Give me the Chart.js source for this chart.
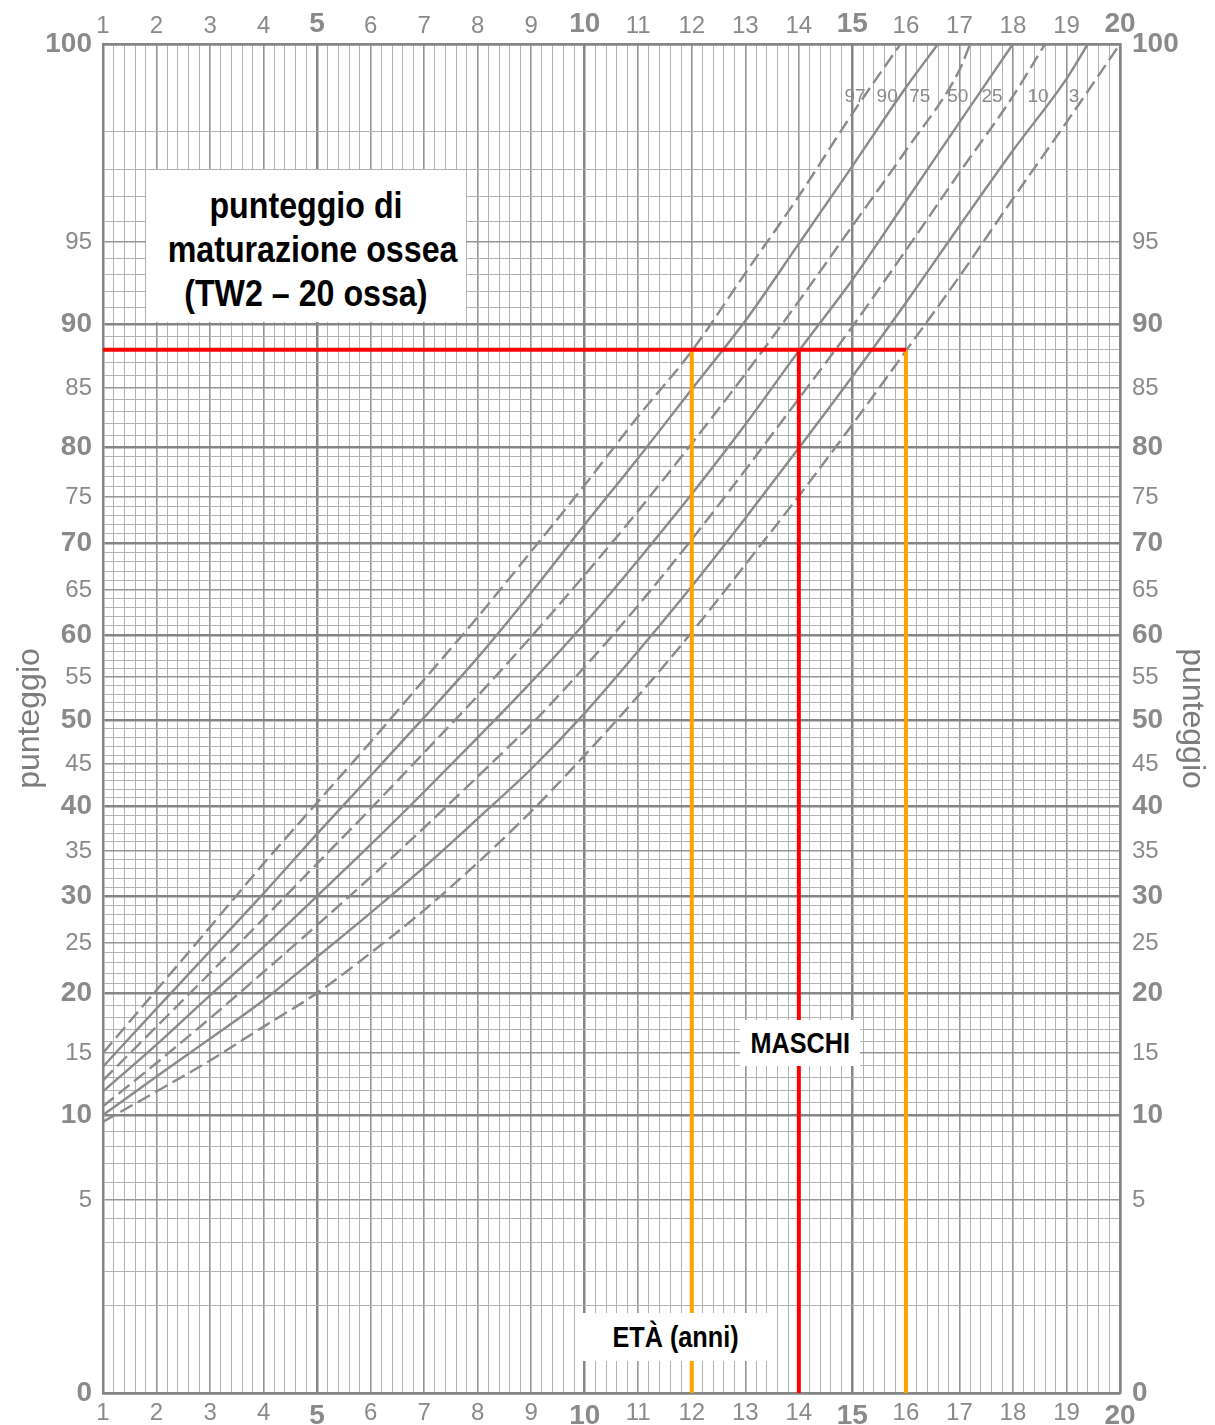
<!DOCTYPE html>
<html lang="it">
<head>
<meta charset="utf-8">
<title>punteggio di maturazione ossea (TW2 – 20 ossa)</title>
<script src="https://cdn.jsdelivr.net/npm/chart.js@4.4.1/dist/chart.umd.min.js"></script>
<style>
    body { margin: 0; background: #fff; }
    #wrap { position: relative; width: 1215px; height: 1425px; }
    .box {
        position: absolute;
        background: #fff;
        color: #000;
        font-family: 'Liberation Sans', Arial, sans-serif;
        font-weight: bold;
        text-align: center;
        white-space: nowrap;
    }
    .box span { display: inline-block; transform: scaleX(0.87); transform-origin: center; }
    #title-box { left: 146px; top: 170px; width: 320px; height: 152px; font-size: 37px; line-height: 44px; padding-top: 14px; box-sizing: border-box; }
    #sex-box { left: 740px; top: 1020px; width: 120px; height: 46px; font-size: 29px; line-height: 46px; }
    #age-box { left: 578px; top: 1313px; width: 194px; height: 48px; font-size: 29px; line-height: 48px; }
</style>
</head>
<body>
<div id="wrap">
    <canvas id="chart" width="1215" height="1425"></canvas>
    <div class="box" id="title-box"><span>punteggio di</span><br><span>maturazione ossea</span><br><span>(TW2 – 20 ossa)</span></div>
    <div class="box" id="sex-box"><span>MASCHI</span></div>
    <div class="box" id="age-box"><span>ETÀ (anni)</span></div>
</div>
<script>
// Data: age in years, score (TW2 / 10)
const ages = [1, 2, 3, 4, 5, 6, 7, 8, 9, 10, 11, 12, 13, 14, 15, 16, 17, 18, 19, 20];
const percentiles = ['97', '90', '75', '50', '25', '10', '3'];

const p97 = [15.0, 20.3, 26.7, 33.6, 40.4, 47.5, 54.7, 62.0, 69.1, 76.2, 82.6, 87.9, 93.1, 97.0, 99.2, null, null, null, null, null];
const p90 = [13.9, 18.7, 24.2, 30.3, 36.9, 43.6, 50.3, 57.3, 64.7, 72.0, 78.9, 84.9, 90.2, 94.9, 98.1, 99.5, null, null, null, null];
const p75 = [12.8, 17.2, 22.0, 27.6, 33.6, 39.7, 46.3, 52.8, 59.8, 66.6, 73.5, 80.3, 86.1, 91.4, 95.8, 98.5, 99.7, null, null, null];
const p50 = [11.9, 15.7, 19.8, 24.6, 30.0, 35.7, 41.7, 48.0, 54.4, 61.3, 68.2, 75.3, 81.9, 87.9, 92.7, 96.8, 99.1, null, null, null];
const p25 = [10.7, 14.2, 17.9, 22.1, 26.9, 32.1, 37.6, 43.5, 49.5, 56.2, 63.3, 70.4, 77.7, 84.1, 89.8, 94.5, 97.9, 99.4, null, null];
const p10 = [10.0, 13.1, 16.2, 19.4, 23.6, 28.2, 33.2, 38.6, 44.4, 50.8, 58.1, 65.4, 72.7, 79.9, 85.9, 91.3, 95.8, 98.5, 99.6, null];
const p3  = [9.6, 11.9, 14.4, 17.2, 20.0, 24.0, 28.5, 33.7, 39.4, 46.0, 52.8, 60.3, 67.7, 75.1, 81.9, 87.9, 92.9, 96.9, 99.1, null];
// age where each curve reaches 100
const endAges = [15.9, 16.6, 17.2, 18.0, 18.6, 19.4, 20.0];

// reference lines drawn on the chart
const refScore = 88;
const refAges = [12, 14, 16];

// score axis of the printed chart (score -> fraction of axis height)
const scoreStops = [
    [0, 0], [1, .0645], [2, .0904], [3, .1112], [4, .1297], [5, .1431], [6, .1564], [7, .1698],
    [8, .1824], [9, .1935], [10, .2061], [15, .2520], [20, .2965], [25, .3336], [30, .3684],
    [35, .4018], [40, .4351], [45, .4663], [50, .4989], [55, .5308], [60, .5619], [65, .5953],
    [70, .6301], [75, .6642], [80, .7013], [85, .7450], [90, .7924], [95, .8532], [96, .8681],
    [97, .8873], [98, .9066], [99, .9355], [100, 1]
];

function scoreToDec(v) {
    if (v <= 0) return 0;
    if (v >= 100) return 1;
    for (let i = 1; i < scoreStops.length; i++) {
        const [s1, d1] = scoreStops[i];
        if (v <= s1) {
            const [s0, d0] = scoreStops[i - 1];
            return d0 + (v - s0) / (s1 - s0) * (d1 - d0);
        }
    }
    return 1;
}

function decToScore(d) {
    for (let i = 1; i < scoreStops.length; i++) {
        const [s1, d1] = scoreStops[i];
        if (d <= d1) {
            const [s0, d0] = scoreStops[i - 1];
            return s0 + (d - d0) / (d1 - d0) * (s1 - s0);
        }
    }
    return 100;
}

class ScoreScale extends Chart.LinearScale {
    determineDataLimits() {
        this.min = 0;
        this.max = 100;
    }
    buildTicks() {
        const ticks = [];
        for (let v = 0; v <= 100; v++) ticks.push({ value: v });
        return ticks;
    }
    getPixelForValue(value) {
        if (value === null || value === undefined) return NaN;
        return this.getPixelForDecimal(scoreToDec(value));
    }
    getValueForPixel(pixel) {
        return decToScore(this.getDecimalForPixel(pixel));
    }
}
ScoreScale.id = 'score';
ScoreScale.defaults = Chart.LinearScale.defaults;
Chart.register(ScoreScale);

const grey = '#8a8a8a';
const fontFamily = "'Liberation Sans', Arial, sans-serif";

function curvePoints(values, endAge) {
    const pts = [];
    ages.forEach((a, i) => {
        if (values[i] !== null && a < endAge) pts.push({ x: a, y: values[i] });
    });
    pts.push({ x: endAge, y: 100 });
    return pts;
}

const curveValues = [p97, p90, p75, p50, p25, p10, p3];
const curveSets = curveValues.map((vals, i) => ({
    label: 'P' + percentiles[i],
    data: curvePoints(vals, endAges[i]),
    borderColor: grey,
    borderWidth: 2.4,
    borderDash: i % 2 === 0 ? [14, 6] : [],
    pointRadius: 0,
    cubicInterpolationMode: 'monotone',
    order: 3
}));

const refSets = [
    { data: [{ x: refAges[0], y: refScore }, { x: refAges[0], y: 0 }], borderColor: '#ffa200', order: 2 },
    { data: [{ x: refAges[2], y: refScore }, { x: refAges[2], y: 0 }], borderColor: '#ffa200', order: 2 },
    { data: [{ x: refAges[1], y: refScore }, { x: refAges[1], y: 0 }], borderColor: '#ff0000', order: 1 },
    { data: [{ x: 1, y: refScore }, { x: refAges[2], y: refScore }], borderColor: '#ff0000', order: 1 }
].map(d => Object.assign({ borderWidth: 4, pointRadius: 0 }, d));

// small percentile names near the top of the curves
const labelAges = [15.05, 15.65, 16.26, 16.97, 17.61, 18.47, 19.14];
const labelScore = 99.39;

const percentileLabels = {
    id: 'percentileLabels',
    afterDatasetsDraw(chart) {
        const ctx = chart.ctx;
        const xs = chart.scales.x, ys = chart.scales.y;
        ctx.save();
        ctx.font = '19px ' + fontFamily;
        ctx.fillStyle = grey;
        ctx.textAlign = 'center';
        ctx.textBaseline = 'middle';
        percentiles.forEach((p, i) => {
            ctx.fillText(p, xs.getPixelForValue(labelAges[i]), ys.getPixelForValue(labelScore));
        });
        ctx.restore();
    }
};

function isInt(v) { return Math.abs(v - Math.round(v)) < 1e-6; }

const tickFont = (bold) => bold
    ? { family: fontFamily, size: 28, weight: 'bold' }
    : { family: fontFamily, size: 24 };

const ageTicks = [];
for (let i = 5; i <= 100; i++) ageTicks.push({ value: i / 5 });

new Chart(document.getElementById('chart'), {
    type: 'line',
    data: { datasets: curveSets.concat(refSets) },
    options: {
        responsive: false,
        animation: false,
        events: [],
        devicePixelRatio: 1,
        layout: { padding: 0 },
        plugins: { legend: { display: false }, tooltip: { enabled: false } },
        scales: {
            x: {
                type: 'linear',
                position: 'bottom',
                min: 1,
                max: 20,
                afterBuildTicks: (scale) => { scale.ticks = ageTicks.map(t => ({ value: t.value })); },
                afterFit: (scale) => { scale.height = 32; },
                grid: {
                    drawTicks: false,
                    color: (c) => isInt(c.tick.value) ? (Math.round(c.tick.value) % 5 === 0 ? '#858585' : '#959595') : '#b2b2b2',
                    lineWidth: (c) => isInt(c.tick.value) ? (Math.round(c.tick.value) % 5 === 0 ? 2.5 : 1.6) : 1
                },
                border: { display: true, color: '#858585', width: 2.5 },
                ticks: {
                    autoSkip: false,
                    maxRotation: 0,
                    padding: 6,
                    color: grey,
                    font: (c) => tickFont(c.tick && isInt(c.tick.value) && Math.round(c.tick.value) % 5 === 0),
                    callback: (v) => isInt(v) ? String(Math.round(v)) : ''
                }
            },
            x2: {
                type: 'linear',
                axis: 'x',
                position: 'top',
                min: 1,
                max: 20,
                afterFit: (scale) => { scale.height = 44; },
                grid: { display: false, drawTicks: false },
                border: { display: true, color: '#858585', width: 2.5 },
                ticks: {
                    stepSize: 1,
                    autoSkip: false,
                    maxRotation: 0,
                    padding: 3,
                    color: grey,
                    font: (c) => tickFont(c.tick && c.tick.value % 5 === 0),
                    callback: (v) => String(v)
                }
            },
            y: {
                type: 'score',
                position: 'left',
                afterFit: (scale) => { scale.width = 103; },
                grid: {
                    drawTicks: false,
                    color: (c) => c.tick.value % 10 === 0 ? '#858585' : (c.tick.value % 5 === 0 ? '#959595' : '#b2b2b2'),
                    lineWidth: (c) => c.tick.value % 10 === 0 ? 2.5 : (c.tick.value % 5 === 0 ? 1.6 : 1)
                },
                border: { display: true, color: '#858585', width: 2.5 },
                title: {
                    display: true,
                    text: 'punteggio',
                    color: '#7c7c7c',
                    font: { family: fontFamily, size: 32 },
                    padding: { top: 11, bottom: 0 }
                },
                ticks: {
                    autoSkip: false,
                    padding: 11,
                    color: grey,
                    font: (c) => tickFont(c.tick && c.tick.value % 10 === 0),
                    callback: (v) => v % 5 === 0 ? String(v) : ''
                }
            },
            y2: {
                type: 'score',
                axis: 'y',
                position: 'right',
                afterFit: (scale) => { scale.width = 95; },
                grid: { display: false, drawTicks: false },
                border: { display: true, color: '#858585', width: 2.5 },
                title: {
                    display: true,
                    text: 'punteggio',
                    color: '#7c7c7c',
                    font: { family: fontFamily, size: 32 },
                    padding: { top: 4, bottom: 0 }
                },
                ticks: {
                    autoSkip: false,
                    padding: 12,
                    color: grey,
                    font: (c) => tickFont(c.tick && c.tick.value % 10 === 0),
                    callback: (v) => v % 5 === 0 ? String(v) : ''
                }
            }
        }
    },
    plugins: [percentileLabels]
});
</script>
</body>
</html>
